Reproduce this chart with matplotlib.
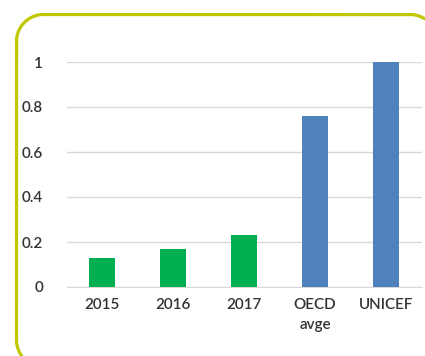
import matplotlib
matplotlib.use("Agg")
import numpy as np
import matplotlib.pyplot as plt
from matplotlib.lines import Line2D

categories = ["2015", "2016", "2017", "OECD\navge", "UNICEF"]
values = [0.13, 0.17, 0.23, 0.76, 1.0]
colors = ["#00b050", "#00b050", "#00b050", "#4f81bd", "#4f81bd"]
yticks = [0, 0.2, 0.4, 0.6, 0.8, 1]
ytick_labels = ["0", "0.2", "0.4", "0.6", "0.8", "1"]

plt.rcParams['font.family'] = ['Lato', 'DejaVu Sans']

fig = plt.figure(figsize=(4.25, 3.56), dpi=100)
W, H = 425, 356

# rounded border (pixel coords, y from top). The frame runs off the right
# and bottom edges of the picture, so only the visible part is traced.
def arc(cx, cy, r, a0, a1, n=120):
    t = np.radians(np.linspace(a0, a1, n))
    return cx + r * np.cos(t), cy + r * np.sin(t)

x0, y0, x1, y1, r = 16.5, 14.5, 437.0, 367.0, 27.0
parts = [
    arc(x0 + r, y1 - r, r, 146, 180),   # bottom-left corner (partly visible)
    arc(x0 + r, y0 + r, r, 180, 270),   # top-left corner
    arc(x1 - r, y0 + r, r, 270, 301),   # top-right corner (partly visible)
]
bx = np.concatenate([p[0] for p in parts])
by = np.concatenate([p[1] for p in parts])
fig.add_artist(Line2D(bx / W, (H - by) / H, transform=fig.transFigure,
                      color="#bfc800", linewidth=2.3, solid_joinstyle="round"))

ax = fig.add_axes([66.5 / W, (H - 287) / H, (421.5 - 66.5) / W, (287 - 62) / H])
x = range(len(categories))
ax.bar(x, values, width=0.37, color=colors, zorder=3)
ax.set_xlim(-0.5, len(categories) - 0.5)
ax.set_ylim(0, 1)
ax.set_yticks(yticks)
ax.set_yticklabels(ytick_labels)
ax.set_xticks(list(x))
ax.set_xticklabels(categories, linespacing=1.5)
ax.grid(axis="y", color="#d9d9d9", linewidth=1, zorder=0)
for s in ["top", "right", "left"]:
    ax.spines[s].set_visible(False)
ax.spines["bottom"].set_color("#d9d9d9")
ax.tick_params(axis="both", length=0, labelsize=11, colors="#333333")
for lbl in ax.get_xticklabels() + ax.get_yticklabels():
    lbl.set_fontweight("semibold")
ax.tick_params(axis="y", pad=17)
ax.tick_params(axis="x", pad=8)

fig.savefig("out.png", dpi=100)
